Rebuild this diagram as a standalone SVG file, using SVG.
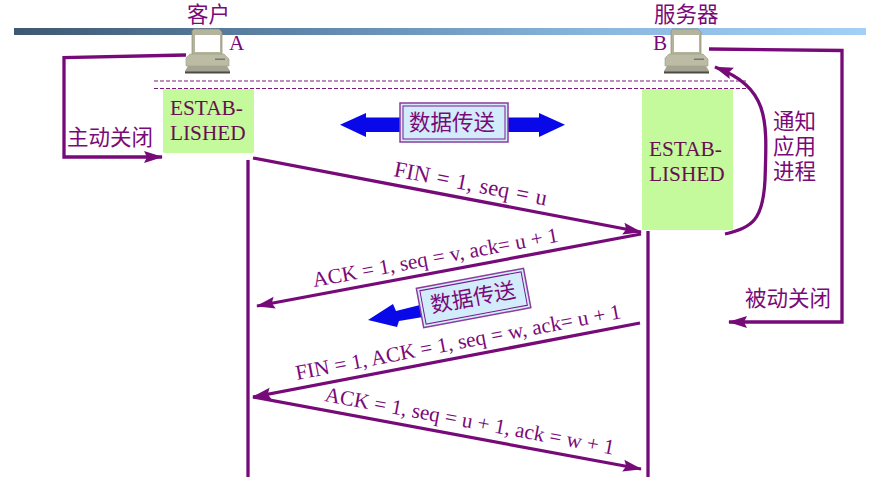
<svg xmlns="http://www.w3.org/2000/svg" width="890" height="490" viewBox="0 0 890 490">
<style>
.l{font-family:"Liberation Serif","Noto Serif",serif;font-size:21.200px;fill:#7a0a78}
.c{font-family:"Noto Sans CJK SC",sans-serif;font-size:21.500px;fill:#7a0a78}
.e{font-family:"Liberation Serif",serif;font-size:21.300px;fill:#66104f}
.w{fill:none;stroke:#760a78;stroke-width:3.300}
.gr{fill:#c4f99c}
.box{fill:#d2ecfc;stroke:#8b3c9c;stroke-width:1.500}
.in{fill:none;stroke:#7a1a8c;stroke-width:1}
.d{stroke:#7a1a78;stroke-width:1;stroke-dasharray:4 2;fill:none}
</style>
<defs>
<linearGradient id="bar" x1="0" x2="1" y1="0" y2="0"><stop offset="0" stop-color="#3d5872"/><stop offset=".35" stop-color="#6088ac"/><stop offset=".7" stop-color="#8cb8e0"/><stop offset="1" stop-color="#a2d0f8"/></linearGradient>
<marker id="a" markerUnits="userSpaceOnUse" markerWidth="20" markerHeight="14" refX="18" refY="7" orient="auto"><path d="M0 1L19 7L0 13L3 7Z" fill="#760a78"/></marker>
<g id="pc">
<path d="M192 31L194 29H219L222 32V55H192Z" fill="#b4b49c" stroke="#8e8e78" stroke-width=".7"/>
<rect x="195" y="35" width="25" height="17" fill="#fff"/>
<path d="M190 54H224L229 59V66H186V58Z" fill="#bcbca4" stroke="#9a9a84" stroke-width=".6"/>
<rect x="215" y="58.500" width="10" height="1.500" fill="#77776a"/>
<path d="M188 66H227L230 71V73H185V71Z" fill="#a4a490"/>
<rect x="185" y="71.500" width="45" height="2" fill="#4c4c44"/>
</g>
</defs>

<g id="top-bar"><rect x="14" y="28" width="852" height="7" fill="url(#bar)"/></g>
<g id="separators">
<path class="d" d="M154 81H746"/>
<path class="d" d="M154 88.500H746"/>
</g>

<g id="connectors">
<path class="w" d="M186 55L64 57.500V157H162" marker-end="url(#a)"/>
<path class="w" d="M709 49L842 50.500V322H729" marker-end="url(#a)"/>
<path class="w" d="M725 234C752 228 763 220 765 180C767 120 770 88 715 67" marker-end="url(#a)"/>
<path class="w" d="M248 160V477"/>
<path class="w" d="M648 231V477"/>
<path class="w" d="M253 158L641 232" marker-end="url(#a)"/>
<path class="w" d="M641 234L257 306" marker-end="url(#a)"/>
<path class="w" d="M640 323L253 397" marker-end="url(#a)"/>
<path class="w" d="M253 397L641 469" marker-end="url(#a)"/>
</g>

<g id="client">
<use href="#pc"/>
<text class="c" x="187" y="22">客户</text>
<text class="l" x="229" y="50">A</text>
</g>
<g id="server">
<use href="#pc" x="479"/>
<text class="c" x="654" y="22">服务器</text>
<text class="l" x="653" y="50">B</text>
</g>
<g id="established-a">
<rect class="gr" x="163" y="89" width="91" height="64" rx="2"/>
<text class="e" x="170" y="115">ESTAB-</text>
<text class="e" x="170" y="140">LISHED</text>
</g>
<g id="established-b">
<rect class="gr" x="642" y="89" width="91" height="141"/>
<text class="e" x="649" y="156">ESTAB-</text>
<text class="e" x="649" y="181">LISHED</text>
</g>
<g id="data-transfer-1">
<path d="M340 124.700L366 113V117.500H400V132H366V137Z" fill="#0808e8"/>
<path d="M565 124.700L539 113V117.500H505V132H539V137Z" fill="#0808e8"/>
<rect class="box" x="400" y="103" width="108" height="39"/>
<rect class="in" x="403" y="106" width="102" height="33"/>
<text class="c" x="409" y="130">数据传送</text>
</g>
<g id="data-transfer-2">
<path d="M368 320L393 304L396 311L420 305L423 317L399 321L397 327Z" fill="#0808e8"/>
<g transform="rotate(-10.600 473.500 297.500)">
<rect class="box" x="419" y="278" width="109" height="40"/>
<rect class="in" x="422" y="281" width="103" height="34"/>
<text class="c" x="430" y="305">数据传送</text>
</g>
</g>
<g id="labels">
<text class="c" x="67" y="145">主动关闭</text>
<text class="c" x="745" y="306">被动关闭</text>
<text class="c" x="773" y="129">通知</text>
<text class="c" x="773" y="154">应用</text>
<text class="c" x="773" y="179">进程</text>
<text class="l" style="font-size:22.500px" word-spacing="1.500" transform="translate(393 176) rotate(11)">FIN = 1, seq = u</text>
<text class="l" transform="translate(314 287) rotate(-10.500)">ACK = 1, seq = v, ack= u + 1</text>
<text class="l" transform="translate(297 380) rotate(-10.800)">FIN = 1, ACK = 1, seq = w, ack= u + 1</text>
<text class="l" transform="translate(324 401) rotate(10.500)">ACK = 1, seq = u + 1, ack = w + 1</text>
</g>
</svg>
